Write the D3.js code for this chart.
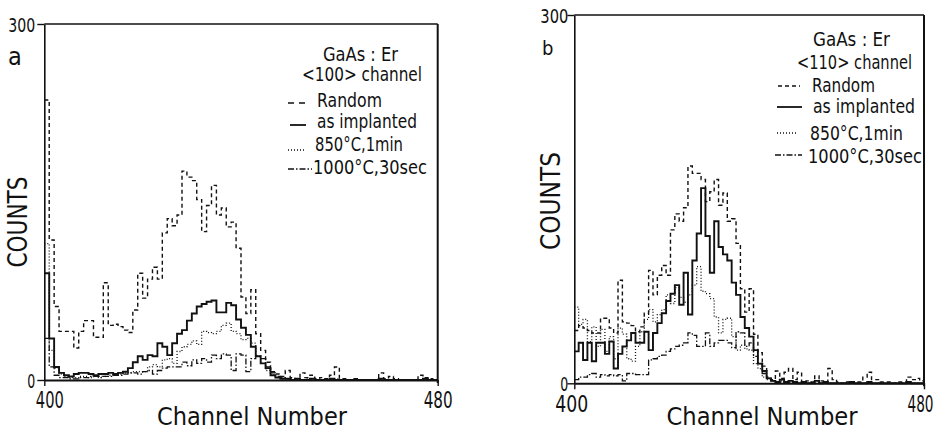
<!DOCTYPE html>
<html><head><meta charset="utf-8">
<script src="https://cdn.jsdelivr.net/npm/d3@7"></script>
<style>
body{margin:0;background:#fff}
svg{display:block}
text{font-family:"DejaVu Sans Condensed","DejaVu Sans",sans-serif;fill:#111;font-stretch:condensed}
</style>
</head><body>
<svg id="chart" width="942" height="432"></svg>
<script>
// ---------- data ----------
const channelStart = 400;
const xTickLabels = [400, 480];
const yTickLabels = [0, 300];
const seriesNames = ["Random", "as implanted", "850°C,1min", "1000°C,30sec"];
const panelLetters = ["a", "b"];
const channelTitles = ["<100> channel", "<110> channel"];
const sampleTitle = "GaAs : Er";
const xTitle = "Channel Number";
const yTitle = "COUNTS";

// panel a : <100> channel
const randomA = [236,118,62,41,41,41,27,41,50,50, 36,36,82,46,47,45,42,40,59,90,
  69,85,95,85,124,136,130,139,176,171, 168,152,125,147,164,139,145,129,133,111,
  70,56,76,39,25,15,7,5,3,8, 2,1,6,2,4,1,2,1,4,11, 1,1,0,1,0,0,0,0,6,1, 3,1,0,0,0,0,4,2,1,0];
const implantedA = [90,35,11,6,4,3,5,6,6,5, 4,5,5,6,5,6,7,10,15,20,
  17,21,20,31,28,21,31,39,42,50, 56,62,64,66,67,57,57,65,63,51,
  44,38,28,20,14,10,4,2,1,1, 0,1,0,0,1,0,0,0,1,0, 0,0,0,0,0,0,0,0,1,0, 0,0,0,0,0,0,0,1,0,0];
const anneal850A = [115,25,10,5,3,2,2,3,3,2, 3,3,3,4,4,5,6,6,7,7,
  7,11,13,11,17,18,14,24,28,30, 33,30,41,40,39,41,46,48,41,39,
  34,35,31,20,14,8,4,2,1,1, 1,0,0,1,0,0,0,0,0,1, 0,0,0,0,0,0,0,0,0,0, 0,0,0,0,0,0,0,0,0,0];
const anneal1000A = [35,11,4,2,2,1,1,2,2,3, 3,2,3,3,4,4,5,6,6,5,
  7,8,5,8,10,11,11,11,15,12, 17,14,18,15,21,18,22,21,8,22,
  21,7,18,20,18,11,6,3,2,1, 0,1,0,0,0,0,0,0,0,0, 0,0,0,0,0,0,0,0,0,0, 0,0,0,0,0,0,0,0,0,0];

// panel b : <110> channel
const randomB = [43,47,45,43,41,41,53,53,45,41, 84,50,49,47,42,46,57,92,72,88,
  96,88,125,138,132,143,177,171,171,166, 148,156,166,145,155,132,134,114,77,58,
  77,40,25,14,5,3,10,4,9,12, 3,9,1,2,1,6,2,1,12,3, 1,0,1,0,1,1,5,9,3,3, 1,1,1,0,1,1,5,3,4,2];
const implantedB = [26,33,19,33,18,33,33,24,34,12, 24,30,35,41,33,33,42,27,41,49,
  57,67,73,80,64,90,56,100,122,159, 120,90,132,111,105,100,82,72,54,45,
  38,27,16,10,4,2,1,3,1,2, 1,0,1,0,0,2,0,1,0,0, 0,0,0,1,0,0,0,1,0,0, 0,0,0,0,0,0,1,0,0,0];
const anneal850B = [62,48,52,34,46,30,44,26,38,20, 45,40,20,18,30,42,52,60,50,56,
  60,72,65,78,70,66,72,80,95,75, 73,69,54,41,52,53,38,27,31,28,
  27,16,12,5,3,2,1,2,1,1, 1,0,0,0,1,0,0,0,0,0, 0,0,0,0,0,0,0,0,0,0, 0,0,0,0,0,0,0,0,0,0];
const anneal1000B = [3,5,5,7,8,5,7,6,7,6, 7,2,8,8,7,7,7,19,20,22,
  23,26,28,30,31,33,41,39,30,30, 41,30,33,35,35,33,29,42,41,30,
  33,22,16,8,4,2,1,1,0,1, 0,0,0,0,0,0,0,0,0,0, 0,0,0,0,0,0,0,0,0,0, 0,0,0,0,0,0,0,0,0,0];

// ---------- styles ----------
const lineStyles = [
  {dash: "4,3", width: 1.4},
  {dash: null, width: 1.9},
  {dash: "1,2", width: 1.3},
  {dash: "6,2,1.5,2", width: 1.3}
];

const panels = [
  {
    series: [randomA, implantedA, anneal850A, anneal1000A],
    letter: panelLetters[0], channel: channelTitles[0],
    left: 44.3, right: 437.7, top: 24, bottom: 380,
    letterPos: [8, 65, 25],
    yTitleX: 27, yTitleY: 222, yTitleLen: 91,
    xTitleX: 252, xTitleLen: 190,
    yTickLen: [8, 27], yTickGap: 9,
    xTickShift: [5, 0], xTickLen: [28, 29],
    legend: {
      title: [323, 61, 75], chan: [302, 81, 120],
      rows: [[288, 307, 103, 317, 107, 65], [290, 306, 125, 317, 128, 100],
             [288, 305, 150, 315, 151, 88], [288, 312, 169, 313, 174, 114]],
      randomDash: "6,5"
    }
  },
  {
    series: [randomB, implantedB, anneal850B, anneal1000B],
    letter: panelLetters[1], channel: channelTitles[1],
    left: 574.3, right: 924, top: 15, bottom: 383.3,
    letterPos: [542, 55, 20],
    yTitleX: 560, yTitleY: 201, yTitleLen: 98,
    xTitleX: 762, xTitleLen: 191,
    yTickLen: [8, 28], yTickGap: 6,
    xTickShift: [-3, -4], xTickLen: [33, 26],
    legend: {
      title: [813, 46, 77], chan: [797, 69, 115],
      rows: [[778, 800, 86, 812, 92, 63], [777, 802, 107, 813, 113, 102],
             [777, 798, 133, 810, 140, 93], [775, 802, 155, 808, 163, 114]],
      randomDash: "4,3"
    }
  }
];

const svg = d3.select("#chart");

panels.forEach(p => {
  const g = svg.append("g");
  const x = d3.scaleLinear().domain([xTickLabels[0], xTickLabels[1]]).range([p.left, p.right]);
  const y = d3.scaleLinear().domain([yTickLabels[0], yTickLabels[1]]).range([p.bottom, p.top]);

  // data lines (step histograms)
  const line = d3.line().x(d => x(d[0])).y(d => y(d[1])).curve(d3.curveStepAfter);
  p.series.forEach((vals, si) => {
    const pts = vals.map((v, i) => [channelStart + i, v]);
    pts.push([channelStart + vals.length, vals[vals.length - 1]]);
    const st = lineStyles[si];
    g.append("path").attr("d", line(pts))
      .attr("fill", "none").attr("stroke", "#111")
      .attr("stroke-width", st.width)
      .attr("stroke-dasharray", st.dash)
      .attr("stroke-linejoin", "miter");
  });

  // left axis
  const yAxis = d3.axisLeft(y).tickValues(yTickLabels).tickSize(7).tickPadding(2).tickSizeOuter(0);
  const ga = g.append("g").attr("transform", `translate(${p.left},0)`).call(yAxis);
  ga.attr("font-size", null).attr("font-family", null).attr("text-anchor", null);
  ga.select(".domain").attr("stroke", "#111").attr("stroke-width", 1.6);
  ga.selectAll(".tick line").attr("stroke", "#111").attr("stroke-width", 1.4);
  ga.selectAll(".tick text").style("font-size", "20px").attr("fill", "#111")
    .attr("text-anchor", "start")
    .attr("x", (d, i) => -p.yTickGap - p.yTickLen[i])
    .attr("dy", "0.36em")
    .attr("textLength", (d, i) => p.yTickLen[i]).attr("lengthAdjust", "spacingAndGlyphs");

  // bottom axis
  const xAxis = d3.axisBottom(x).tickValues(xTickLabels).tickSize(6).tickPadding(6).tickSizeOuter(0)
    .tickFormat(d3.format("d"));
  const gb = g.append("g").attr("transform", `translate(0,${p.bottom})`).call(xAxis);
  gb.attr("font-size", null).attr("font-family", null).attr("text-anchor", null);
  gb.select(".domain").attr("stroke", "#111").attr("stroke-width", 2);
  gb.selectAll(".tick line").attr("stroke", "#111").attr("stroke-width", 1.4);
  gb.selectAll(".tick text").style("font-size", "23px").attr("fill", "#111")
    .attr("text-anchor", "start")
    .attr("x", (d, i) => p.xTickShift[i] - p.xTickLen[i] / 2)
    .attr("textLength", (d, i) => p.xTickLen[i]).attr("lengthAdjust", "spacingAndGlyphs");

  // frame top & right
  g.append("line").attr("x1", p.left).attr("x2", p.right).attr("y1", p.top).attr("y2", p.top)
    .attr("stroke", "#111").attr("stroke-width", 1.5);
  g.append("line").attr("x1", p.right).attr("x2", p.right).attr("y1", p.top).attr("y2", p.bottom + 3)
    .attr("stroke", "#111").attr("stroke-width", 2);

  // panel letter
  g.append("text").attr("x", p.letterPos[0]).attr("y", p.letterPos[1])
    .style("font-size", p.letterPos[2] + "px").text(p.letter);

  // axis titles
  g.append("text").attr("x", p.xTitleX - p.xTitleLen / 2).attr("y", 425)
    .style("font-size", "24px").attr("textLength", p.xTitleLen).attr("lengthAdjust", "spacingAndGlyphs")
    .text(xTitle);
  g.append("text").attr("transform", `translate(${p.yTitleX},${p.yTitleY + p.yTitleLen / 2}) rotate(-90)`)
    .style("font-size", "27px")
    .attr("textLength", p.yTitleLen).attr("lengthAdjust", "spacingAndGlyphs")
    .text(yTitle);

  // legend
  const L = p.legend;
  g.append("text").attr("x", L.title[0]).attr("y", L.title[1]).style("font-size", "19px")
    .attr("textLength", L.title[2]).attr("lengthAdjust", "spacingAndGlyphs").text(sampleTitle);
  g.append("text").attr("x", L.chan[0]).attr("y", L.chan[1]).style("font-size", "19px")
    .attr("textLength", L.chan[2]).attr("lengthAdjust", "spacingAndGlyphs").text(p.channel);
  L.rows.forEach((r, i) => {
    const st = lineStyles[i];
    g.append("line").attr("x1", r[0]).attr("x2", r[1]).attr("y1", r[2]).attr("y2", r[2])
      .attr("stroke", "#111").attr("stroke-width", i === 1 ? 1.8 : 1.3)
      .attr("stroke-dasharray", i === 0 ? L.randomDash : st.dash);
    g.append("text").attr("x", r[3]).attr("y", r[4]).style("font-size", "19px")
      .attr("textLength", r[5]).attr("lengthAdjust", "spacingAndGlyphs").text(seriesNames[i]);
  });
});
</script>
</body></html>
